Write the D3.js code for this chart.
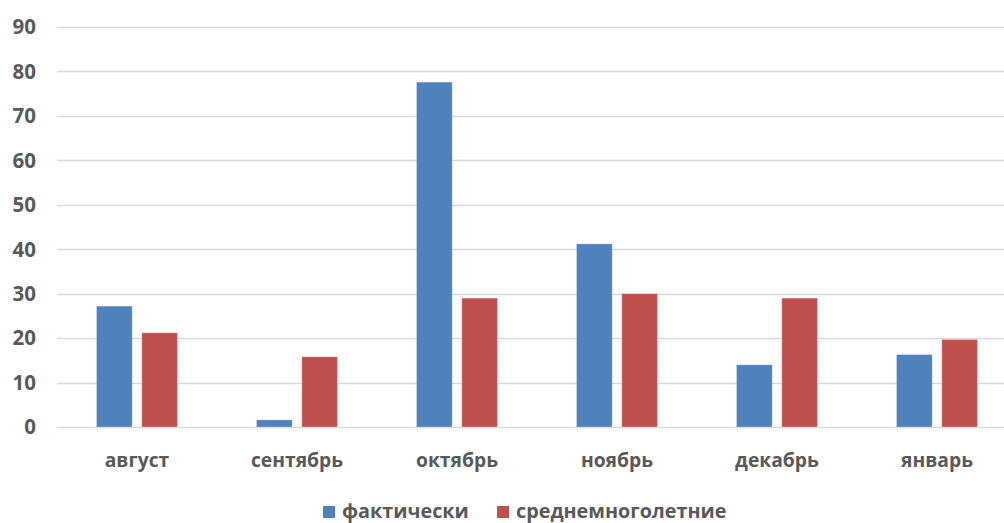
<!DOCTYPE html>
<html>
<head>
<meta charset="utf-8">
<script src="https://cdn.jsdelivr.net/npm/d3@7"></script>
<style>
  html, body { margin: 0; padding: 0; background: #fff; }
  svg { display: block; }
  text { font-family: "Open Sans", "DejaVu Sans", sans-serif; font-weight: bold; fill: #595959; }
</style>
</head>
<body>
<svg id="chart" width="1004" height="523"></svg>
<script>
// Monthly precipitation: actual vs long-term average
const months = ["август", "сентябрь", "октябрь", "ноябрь", "декабрь", "январь"];
const actual = [27.2, 1.6, 77.6, 41.2, 14.0, 16.3];
const average = [21.2, 15.8, 29.0, 30.0, 29.0, 19.7];
const seriesNames = ["фактически", "среднемноголетние"];
const seriesColors = ["#4F81BD", "#C0504D"];
const yTicks = [0, 10, 20, 30, 40, 50, 60, 70, 80, 90];

const svg = d3.select("#chart");
const margin = { left: 57, right: -13, top: 27, bottom: 96 };
const W = 1004, H = 523;

const x = d3.scaleBand()
  .domain(months)
  .range([margin.left, W - margin.right])
  .paddingInner(0)
  .paddingOuter(0);

const sub = d3.scaleBand()
  .domain([0, 1])
  .range([39.5, x.bandwidth() - 39.5])
  .paddingInner(0.21);

const y = d3.scaleLinear()
  .domain([0, 90])
  .range([H - margin.bottom, margin.top]);

// gridlines
svg.append("g")
  .selectAll("line")
  .data(yTicks)
  .join("line")
  .attr("x1", margin.left)
  .attr("x2", W)
  .attr("y1", d => Math.round(y(d)) + 0.5)
  .attr("y2", d => Math.round(y(d)) + 0.5)
  .attr("stroke", "#d9d9d9")
  .attr("stroke-width", 1.5);

// y axis labels
svg.append("g")
  .selectAll("text")
  .data(yTicks)
  .join("text")
  .attr("x", 36)
  .attr("y", d => y(d))
  .attr("dy", "0.36em")
  .attr("text-anchor", "end")
  .attr("font-size", 20.5)
  .text(d => d);

// bars
const rows = months.map((m, i) => ({ m, vals: [actual[i], average[i]] }));
const groups = svg.append("g")
  .selectAll("g")
  .data(rows)
  .join("g")
  .attr("transform", d => `translate(${x(d.m)},0)`);

groups.selectAll("rect")
  .data(d => d.vals.map((v, k) => ({ v, k })))
  .join("rect")
  .attr("x", d => sub(d.k))
  .attr("width", sub.bandwidth())
  .attr("y", d => y(d.v))
  .attr("height", d => y(0) - y(d.v))
  .attr("fill", d => seriesColors[d.k])
  .attr("stroke", "rgba(255,255,255,0.3)")
  .attr("stroke-width", 1);

// category labels
svg.append("g")
  .selectAll("text")
  .data(months)
  .join("text")
  .attr("x", d => x(d) + x.bandwidth() / 2)
  .attr("y", 467)
  .attr("text-anchor", "middle")
  .attr("font-size", 19.3)
  .text(d => d);

// legend
const legend = svg.append("g");
const legendItems = [
  { name: seriesNames[0], color: seriesColors[0], x: 323 },
  { name: seriesNames[1], color: seriesColors[1], x: 497 }
];
legendItems.forEach(it => {
  legend.append("rect")
    .attr("x", it.x).attr("y", 506)
    .attr("width", 12).attr("height", 12)
    .attr("fill", it.color);
  legend.append("text")
    .attr("x", it.x + 19).attr("y", 518)
    .attr("font-size", 19.8)
    .text(it.name);
});
</script>
</body>
</html>
